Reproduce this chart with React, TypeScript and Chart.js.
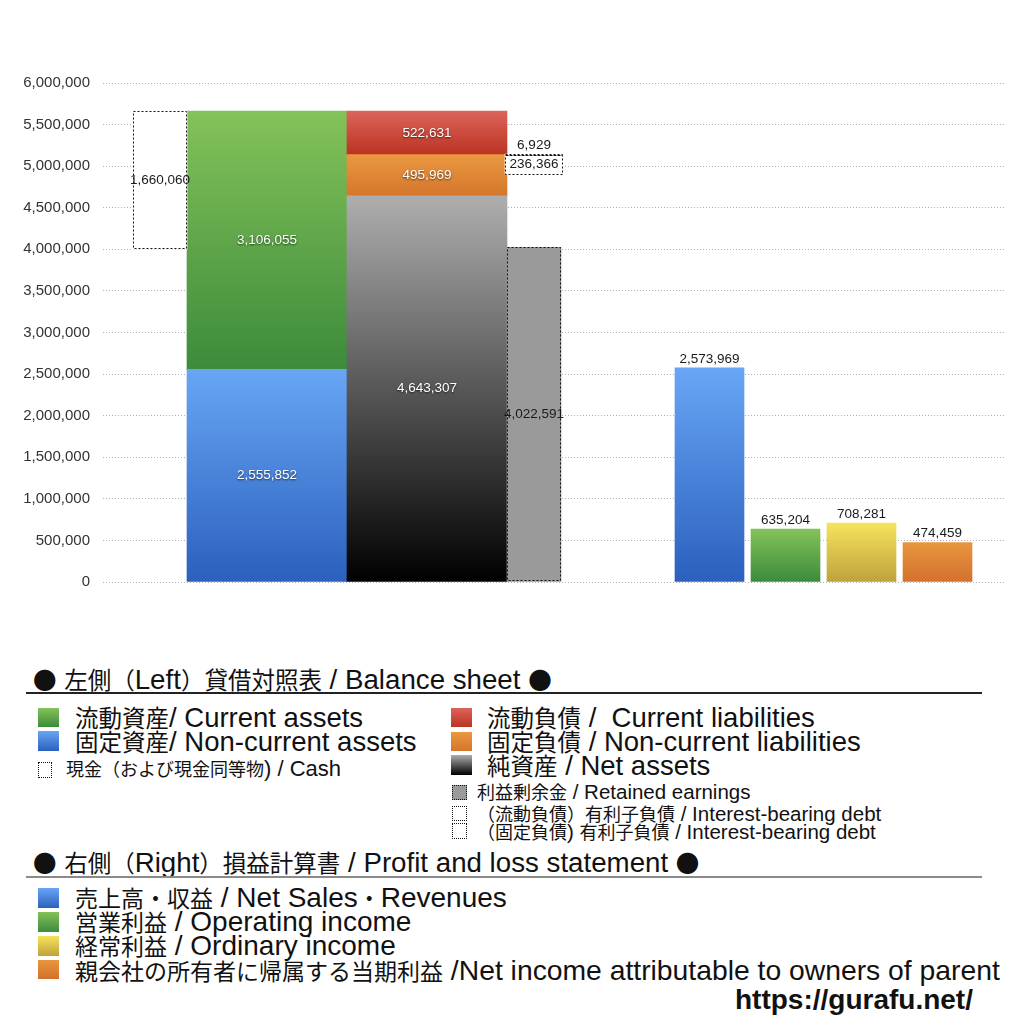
import React, { useEffect, useRef } from "react";
import { Chart, registerables } from "chart.js";

Chart.register(...registerables);

// ---------------- data ----------------
const ASSET_LABELS = ["固定資産", "流動資産"];
const ASSET_VALUES = [2555852, 3106055];
const CLAIM_LABELS = ["純資産", "固定負債", "流動負債"];
const CLAIM_VALUES = [4643307, 495969, 522631];
const CASH_LABELS = ["現金"];
const CASH_VALUES = [1660060];
const RETAINED_LABELS = ["利益剰余金"];
const RETAINED_VALUES = [4022591];
const DEBT_LABELS = ["（固定負債）有利子負債", "（流動負債）有利子負債"];
const DEBT_VALUES = [236366, 6929];
const PL_LABELS = ["売上高・収益", "営業利益", "経常利益", "親会社の所有者に帰属する当期利益"];
const PL_VALUES = [2573969, 635204, 708281, 474459];
const Y_MAX = 6000000;
const Y_STEP = 500000;

// ---------------- layout / style ----------------
const X_MAX = 902;
const SLOT = { cash: 57, assets: 164, claims: 324, memo: 431, pl: [606.5, 682.5, 758.5, 834.5] };
const THICK = { narrow: 54, wide: 160, debt: 58, pl: 69 };

const GRAD: Record<string, [string, string]> = {
  green: ["#84C25A", "#3C8B3B"],
  blue: ["#68A6F5", "#2B60BE"],
  red: ["#DC645B", "#BB3320"],
  orange: ["#EA9840", "#D5762C"],
  gray: ["#AEAEAE", "#000000"],
  yellow: ["#F6E35C", "#BFA23B"],
  plOrange: ["#E8963F", "#D4702D"],
};
const PL_GRADS = [GRAD.blue, GRAD.green, GRAD.yellow, GRAD.plOrange];

const CJK = '"Noto Sans CJK JP", sans-serif';
const LAT = '"Liberation Sans", Arial, sans-serif';

const fmt = (v: number) => Math.round(v).toLocaleString("en-US");

function barGrad(pair: (ctx: any) => [string, string]) {
  return (context: any) => {
    const chart = context.chart;
    const [c0, c1] = pair(context);
    if (!chart.chartArea || context.type !== "data" || !chart.scales.y) return c0;
    const raw = context.raw;
    let lo = 0;
    let hi = 0;
    if (Array.isArray(raw.y)) {
      lo = raw.y[0];
      hi = raw.y[1];
    } else {
      hi = raw.y;
    }
    const yTop = chart.scales.y.getPixelForValue(hi);
    const yBot = chart.scales.y.getPixelForValue(lo);
    if (!isFinite(yTop) || !isFinite(yBot) || yTop === yBot) return c0;
    const g = chart.ctx.createLinearGradient(0, yTop, 0, yBot);
    g.addColorStop(0, c0);
    g.addColorStop(1, c1);
    return g;
  };
}

const overlayPlugin = {
  id: "overlay",
  afterDatasetsDraw(chart: any) {
    const ctx = chart.ctx;
    const items: any[] = [];
    chart.data.datasets.forEach((ds: any, i: number) => {
      const meta = chart.getDatasetMeta(i);
      meta.data.forEach((el: any, j: number) => {
        const p = el.getProps(["x", "y", "base", "width"], true);
        const top = Math.min(p.y, p.base);
        const bot = Math.max(p.y, p.base);
        if (ds.dotted) {
          ctx.save();
          ctx.setLineDash([2, 2]);
          ctx.strokeStyle = "#111";
          ctx.lineWidth = 1;
          const l = Math.round(p.x - p.width / 2) + 0.5;
          const t = Math.round(top) + 0.5;
          const w = Math.round(p.width) - 1;
          const h = Math.max(1, Math.round(bot - top) - 1);
          ctx.strokeRect(l, t, w, h);
          ctx.restore();
        }
        const raw = ds.data[j];
        const val = Array.isArray(raw.y) ? raw.y[1] - raw.y[0] : raw.y;
        items.push({ mode: ds.labelMode, x: p.x, top, bot, text: fmt(val) });
      });
    });
    items.forEach((it) => {
      ctx.save();
      ctx.font = '13.5px "Liberation Sans", Arial, sans-serif';
      ctx.textAlign = "center";
      ctx.textBaseline = "middle";
      if (it.mode === "inside-white") {
        ctx.fillStyle = "#ffffff";
        ctx.shadowColor = "rgba(0,0,0,0.65)";
        ctx.shadowBlur = 2;
        ctx.shadowOffsetY = 1;
        ctx.fillText(it.text, it.x, (it.top + it.bot) / 2);
      } else if (it.mode === "inside-dark") {
        ctx.fillStyle = "#1a1a1a";
        ctx.fillText(it.text, it.x, (it.top + it.bot) / 2);
      } else if (it.mode === "above") {
        ctx.fillStyle = "#1a1a1a";
        ctx.fillText(it.text, it.x, it.top - 9);
      }
      ctx.restore();
    });
  },
};

function ChartCanvas() {
  const ref = useRef<HTMLCanvasElement | null>(null);
  useEffect(() => {
    if (!ref.current) return;
    const assetTotal = ASSET_VALUES.reduce((a, b) => a + b, 0);
    const claimStart = (k: number) => CLAIM_VALUES.slice(0, k).reduce((a, b) => a + b, 0);
    const nclTop = claimStart(2);

    const base = { grouped: false, borderWidth: 0 };
    const datasets: any[] = [
      {
        ...base,
        label: DEBT_LABELS[1],
        data: [{ x: SLOT.memo, y: [nclTop, nclTop + DEBT_VALUES[1]] }],
        backgroundColor: "#ffffff",
        barThickness: THICK.debt,
        dotted: true,
        labelMode: "above",
      },
      {
        ...base,
        label: DEBT_LABELS[0],
        data: [{ x: SLOT.memo, y: [nclTop - DEBT_VALUES[0], nclTop] }],
        backgroundColor: "#ffffff",
        barThickness: THICK.debt,
        dotted: true,
        labelMode: "inside-dark",
      },
      {
        ...base,
        label: CASH_LABELS[0],
        data: [{ x: SLOT.cash, y: [assetTotal - CASH_VALUES[0], assetTotal] }],
        backgroundColor: "#ffffff",
        barThickness: THICK.narrow,
        dotted: true,
        labelMode: "inside-dark",
      },
      {
        ...base,
        label: RETAINED_LABELS[0],
        data: [{ x: SLOT.memo, y: [0, RETAINED_VALUES[0]] }],
        backgroundColor: "#9a9a9a",
        barThickness: THICK.narrow,
        dotted: true,
        labelMode: "inside-dark",
      },
    ];
    const claimColors = [GRAD.gray, GRAD.orange, GRAD.red];
    CLAIM_VALUES.forEach((v, k) => {
      datasets.push({
        ...base,
        label: CLAIM_LABELS[k],
        data: [{ x: SLOT.claims, y: [claimStart(k), claimStart(k) + v] }],
        backgroundColor: barGrad(() => claimColors[k]),
        barThickness: THICK.wide,
        labelMode: "inside-white",
      });
    });
    const assetColors = [GRAD.blue, GRAD.green];
    ASSET_VALUES.forEach((v, k) => {
      const s = ASSET_VALUES.slice(0, k).reduce((a, b) => a + b, 0);
      datasets.push({
        ...base,
        label: ASSET_LABELS[k],
        data: [{ x: SLOT.assets, y: [s, s + v] }],
        backgroundColor: barGrad(() => assetColors[k]),
        barThickness: THICK.wide,
        labelMode: "inside-white",
      });
    });
    datasets.push({
      ...base,
      label: "損益計算書",
      data: PL_VALUES.map((v, k) => ({ x: SLOT.pl[k], y: v, name: PL_LABELS[k] })),
      backgroundColor: barGrad((c: any) => PL_GRADS[c.dataIndex] || GRAD.blue),
      barThickness: THICK.pl,
      labelMode: "above",
    });

    const chart = new Chart(ref.current, {
      type: "bar",
      data: { datasets },
      options: {
        animation: false,
        responsive: false,
        events: [],
        layout: { padding: { left: 0, top: 83, right: 19, bottom: 18 } },
        plugins: { legend: { display: false }, tooltip: { enabled: false } },
        scales: {
          x: { type: "linear", min: 0, max: X_MAX, display: false, offset: false },
          y: {
            min: 0,
            max: Y_MAX,
            ticks: {
              stepSize: Y_STEP,
              color: "#333",
              padding: 13,
              font: { family: "Liberation Sans", size: 15 },
              callback: (v: any) => fmt(Number(v)),
            },
            grid: { color: "rgba(0,0,0,0.3)", drawTicks: false, lineWidth: 1 },
            border: { display: false, dash: [1, 2] },
            afterFit: (s: any) => {
              s.width = 103;
            },
          },
        },
      } as any,
      plugins: [overlayPlugin],
    });
    return () => chart.destroy();
  }, []);
  return (
    <canvas
      ref={ref}
      width={1024}
      height={604}
      style={{ position: "absolute", left: 0, top: 0, width: 1024, height: 604 }}
    />
  );
}

function Mixed({ text, cjk, lat, bold }: { text: string; cjk: number; lat: number; bold?: boolean }) {
  const parts = text.split(/([\x20-\x7E]+)/).filter((p) => p.length > 0);
  return (
    <>
      {parts.map((p, i) =>
        /^[\x20-\x7E]+$/.test(p) ? (
          <span key={i} style={{ fontFamily: LAT, fontSize: lat, whiteSpace: "pre", fontWeight: bold ? 700 : 400 }}>
            {p}
          </span>
        ) : (
          <span key={i} style={{ fontFamily: CJK, fontSize: cjk, whiteSpace: "pre", fontWeight: bold ? 700 : 400 }}>
            {p}
          </span>
        )
      )}
    </>
  );
}

function Line({ x, baseline, text, cjk, lat, bold }: { x: number; baseline: number; text: string; cjk: number; lat: number; bold?: boolean }) {
  const asc = Math.max(cjk * 0.936, lat * 0.8465);
  return (
    <div
      style={{
        position: "absolute",
        left: x,
        top: baseline - asc,
        display: "flex",
        alignItems: "baseline",
        lineHeight: 1,
        whiteSpace: "pre",
        color: "#111",
      }}
    >
      <Mixed text={text} cjk={cjk} lat={lat} bold={bold} />
    </div>
  );
}

function Swatch({ x, y, w, h, grad, fill, dotted }: { x: number; y: number; w: number; h: number; grad?: [string, string]; fill?: string; dotted?: boolean }) {
  return (
    <div
      style={{
        position: "absolute",
        left: x,
        top: y,
        width: w,
        height: h,
        boxSizing: "border-box",
        background: grad ? `linear-gradient(to bottom, ${grad[0]}, ${grad[1]})` : fill || "transparent",
        border: dotted ? "1px dotted #111" : "none",
      }}
    />
  );
}

export default function App() {
  return (
    <div style={{ position: "absolute", left: 0, top: 0, width: 1024, height: 1024, background: "#fff", overflow: "hidden" }}>
      <ChartCanvas />

      <Line x={33} baseline={689} cjk={23.5} lat={27.7} text="● 左側（Left）貸借対照表 / Balance sheet ●" />
      <div style={{ position: "absolute", left: 26, top: 692, width: 956, height: 2, background: "#222" }} />

      <Swatch x={38} y={708} w={21} h={19} grad={GRAD.green} />
      <Line x={75} baseline={727} cjk={23.5} lat={27.5} text="流動資産/ Current assets" />
      <Swatch x={38} y={731} w={21} h={20} grad={GRAD.blue} />
      <Line x={75} baseline={751} cjk={23.5} lat={27.5} text="固定資産/ Non-current assets" />
      <Swatch x={38} y={762} w={14} h={16} dotted />
      <Line x={66} baseline={777} cjk={18} lat={22} text="現金（および現金同等物) / Cash" />

      <Swatch x={451} y={708} w={21} h={19} grad={GRAD.red} />
      <Line x={487} baseline={727} cjk={23.5} lat={27.5} text="流動負債 /  Current liabilities" />
      <Swatch x={451} y={732} w={21} h={19} grad={GRAD.orange} />
      <Line x={487} baseline={751} cjk={23.5} lat={27.5} text="固定負債 / Non-current liabilities" />
      <Swatch x={451} y={755} w={21} h={20} grad={GRAD.gray} />
      <Line x={487} baseline={775} cjk={23.5} lat={27.5} text="純資産 / Net assets" />
      <Swatch x={452} y={785} w={15} h={15} fill="#9a9a9a" dotted />
      <Line x={477} baseline={799} cjk={18} lat={20.5} text="利益剰余金 / Retained earnings" />
      <Swatch x={452} y={806} w={15} h={15} dotted />
      <Line x={477} baseline={821} cjk={18} lat={20.5} text="（流動負債）有利子負債 / Interest-bearing debt" />
      <Swatch x={452} y={823} w={15} h={16} dotted />
      <Line x={477} baseline={839} cjk={18} lat={20.5} text="（固定負債) 有利子負債 / Interest-bearing debt" />

      <Line x={33} baseline={872} cjk={23.5} lat={27.7} text="● 右側（Right）損益計算書 / Profit and loss statement ●" />
      <div style={{ position: "absolute", left: 26, top: 876, width: 956, height: 2, background: "#8a8a8a" }} />

      <Swatch x={38} y={888} w={21} h={20} grad={GRAD.blue} />
      <Line x={75} baseline={908} cjk={23} lat={28} text="売上高・収益 / Net Sales・Revenues" />
      <Swatch x={38} y={912} w={21} h={20} grad={GRAD.green} />
      <Line x={75} baseline={932} cjk={23} lat={28} text="営業利益 / Operating income" />
      <Swatch x={38} y={936} w={21} h={20} grad={GRAD.yellow} />
      <Line x={75} baseline={956} cjk={23} lat={28} text="経常利益 / Ordinary income" />
      <Swatch x={38} y={960} w={21} h={19} grad={GRAD.plOrange} />
      <Line x={75} baseline={980} cjk={23} lat={28.3} text="親会社の所有者に帰属する当期利益 /Net income attributable to owners of parent" />

      <Line x={735} baseline={1010} cjk={23} lat={28} bold text="https://gurafu.net/" />
    </div>
  );
}
